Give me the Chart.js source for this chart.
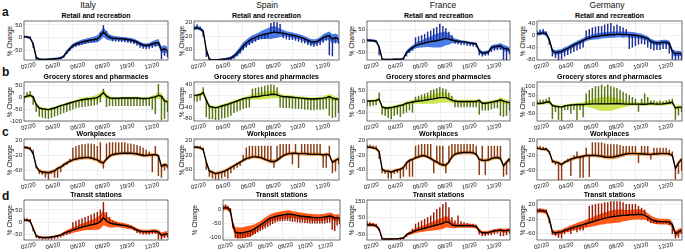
<!DOCTYPE html>
<html><head><meta charset="utf-8">
<script src="https://cdn.jsdelivr.net/npm/chart.js@4.4.1/dist/chart.umd.min.js"></script>
<style>
html,body{margin:0;padding:0;background:#fff;}
body{width:685px;height:252px;position:relative;overflow:hidden;font-family:"Liberation Sans",Arial,Helvetica,sans-serif;color:#111;}
.abs{position:absolute;white-space:nowrap;}
.colh{font-size:8.5px;text-align:center;width:100px;line-height:10px;}
.rowl{font-size:12px;font-weight:bold;line-height:12px;}
.pt{font-size:7px;font-weight:bold;text-align:center;line-height:8px;color:#000;}
.yt{font-size:6.5px;text-align:center;width:40px;height:8px;line-height:8px;transform:rotate(-90deg);}
canvas{position:absolute;}
</style></head><body>
<script>
// ---------- axis / labels ----------
const COUNTRIES = ['Italy','Spain','France','Germany'];
const CATEGORIES = ['Retail and recreation','Grocery stores and pharmacies','Workplaces','Transit stations'];
const ROW_LETTERS = ['a','b','c','d'];
const X_MAX = 330;               // days since 15 Feb 2020 shown
const STEP = 7;                  // one value per week
const X_TICKS = [27, 83, 140, 197, 253, 310];
const X_LABELS = ['02/20','04/20','06/20','08/20','10/20','12/20'];

// ---------- Retail and recreation ----------
const itRMean  = [3,2,-2,-25,-80,-87,-88,-88,-87,-86,-85,-84,-82,-75,-58,-45,-32,-26,-22,-18,-15,-12,-10,-8,-5,5,22,8,0,-2,-3,-4,-5,-6,-8,-10,-13,-18,-25,-30,-32,-30,-25,-22,-20,-50,-45,-52];
const itRBand  = [4,4,5,6,6,4,4,4,4,4,4,5,5,6,8,8,8,8,9,10,10,10,11,12,14,16,20,16,12,10,8,8,8,8,8,8,8,8,8,8,8,8,10,12,14,15,14,14];
const itRSpike = [8,6,4,-40,-88,-90,-91,-90,-90,-88,-88,-86,-85,-80,-65,-52,-42,-36,-32,-28,-25,-22,-20,-18,-15,22,48,25,8,-14,-15,-16,-17,-18,-20,-22,-25,-32,-40,-44,-46,-44,-40,-36,-32,-85,-72,-78];
const itRTicks = [50,0,-50];  const itRRange = [-90,66];

const esRMean  = [3,5,2,-5,-60,-88,-90,-90,-89,-88,-87,-86,-84,-78,-70,-60,-48,-40,-33,-27,-23,-19,-16,-14,-12,-10,-8,-9,-10,-11,-13,-15,-17,-19,-21,-24,-28,-32,-36,-37,-35,-30,-24,-20,-18,-28,-24,-28];
const esRBand  = [5,5,5,6,6,4,3,3,3,3,3,4,5,6,8,10,10,10,10,10,10,10,12,14,16,18,18,16,12,10,8,8,8,8,8,8,8,8,8,8,8,8,10,10,12,14,12,12];
const esRSpike = [10,14,8,-20,-80,-92,-93,-93,-92,-91,-90,-89,-88,-85,-78,-70,-60,-52,-45,-40,-35,-30,-28,-26,-24,18,22,20,15,-25,-28,-30,-30,-32,-35,-38,-40,-45,-48,-50,-48,-45,-38,-32,-75,-78,-40,-42];
const esRTicks = [20,0,-20,-40,-60,-80];  const esRRange = [-90,25];

const frRMean  = [4,3,2,0,-25,-78,-80,-80,-80,-79,-79,-78,-76,-50,-38,-28,-20,-15,-12,-8,-5,-2,0,2,5,8,12,8,5,2,0,-2,-3,-5,-8,-10,-12,-42,-52,-50,-48,-28,-24,-22,-20,-30,-32,-38];
const frRBand  = [5,5,5,6,6,4,3,3,3,3,3,3,5,8,10,10,12,14,16,18,20,24,28,30,32,32,30,24,14,10,8,6,6,6,6,6,6,10,8,8,8,10,10,10,12,14,12,12];
const frRSpike = [10,8,6,-5,-60,-82,-82,-82,-82,-82,-82,-82,-80,-65,-50,-40,15,20,25,30,40,45,55,60,75,65,55,40,25,-10,-12,-15,-15,-18,-20,-22,-25,-60,-65,-62,-60,-45,-40,-38,-36,-80,-82,-55];
const frRTicks = [50,0,-50];  const frRRange = [-82,88];

const deRMean  = [5,6,8,5,-15,-52,-58,-56,-54,-48,-44,-38,-32,-27,-22,-17,-12,-9,-6,-4,-3,-1,0,1,2,2,3,3,2,3,2,1,0,-2,-4,-7,-11,-20,-24,-26,-25,-23,-23,-26,-55,-62,-60,-62];
const deRBand  = [6,6,6,8,8,8,8,8,8,8,8,8,8,8,8,8,8,8,9,10,10,10,10,10,10,10,10,10,10,10,10,10,9,9,9,8,8,8,8,8,8,8,8,8,10,10,8,8];
const deRSpike = [15,18,20,12,-30,-70,-75,-82,-80,-70,-65,-60,-55,-50,-45,-40,15,20,25,28,30,30,35,38,40,30,35,30,25,20,-45,-40,-35,-30,-28,-30,-40,-45,-50,-48,-48,-45,-45,-60,-80,-82,-80,-82];
const deRTicks = [40,20,0,-20,-40,-60,-80];  const deRRange = [-83,48];

// ---------- Grocery stores and pharmacies ----------
const itGMean  = [0,5,8,2,-30,-45,-48,-50,-52,-48,-45,-40,-35,-32,-28,-24,-20,-16,-13,-10,-8,-6,-5,-3,0,8,20,5,-2,-4,-4,-4,-3,-3,-3,-3,-3,-2,-4,-5,-5,-3,0,2,8,5,-15,-18];
const itGBand  = [5,8,10,8,8,6,6,6,6,6,6,6,6,6,6,6,6,6,7,8,8,8,9,10,12,14,16,12,8,6,6,6,6,6,6,6,6,6,6,6,6,6,8,10,14,14,10,10];
const itGSpike = [-20,20,25,-30,-60,-80,-85,-88,-90,-85,-80,-75,-70,-65,-60,-55,-50,-45,-42,-40,-38,-36,-35,-33,-30,-20,35,-40,-35,-35,-35,-35,-35,-35,-35,-35,-35,-35,-35,-35,-35,-35,-50,-70,55,-95,-90,-60];
const itGTicks = [50,0,-50,-100];  const itGRange = [-100,65];

const esGMean  = [2,3,5,12,-15,-38,-40,-42,-40,-36,-33,-30,-26,-22,-18,-14,-10,-8,-6,-4,-3,-2,0,2,3,5,6,4,0,-2,-3,-4,-5,-6,-7,-8,-9,-10,-11,-11,-10,-9,-8,-6,-2,-8,-10,-12];
const esGBand  = [5,5,6,10,10,6,6,6,6,6,6,6,6,6,6,6,6,6,8,10,10,12,12,14,14,14,14,12,8,6,6,6,6,6,6,6,6,6,6,6,6,6,6,8,10,10,8,8];
const esGSpike = [-20,-20,-15,30,-75,-82,-82,-85,-85,-80,-78,-75,-70,-60,-55,-50,-45,-42,-40,25,28,30,32,35,38,40,38,30,-40,-42,-42,-42,-44,-45,-46,-46,-48,-48,-50,-50,-48,-48,-48,-45,-70,-78,-75,-60];
const esGTicks = [40,20,0,-20,-40,-60,-80];  const esGRange = [-90,50];

const frGMean  = [2,2,3,5,10,-25,-30,-30,-28,-25,-22,-18,-15,-8,-5,-2,0,2,3,5,8,10,12,15,18,18,18,12,5,2,0,0,0,0,0,0,0,5,-8,-8,-6,-3,0,2,8,2,-2,-5];
const frGBand  = [6,6,6,8,10,8,8,8,8,8,8,8,8,8,8,10,10,12,14,16,18,20,22,24,24,24,22,18,12,10,8,8,8,8,8,8,8,8,8,8,8,8,8,10,12,12,10,10];
const frGSpike = [-20,-20,-18,-15,40,-60,-65,-75,-80,-65,-60,-70,-55,-50,-40,-50,20,25,30,35,40,50,55,60,65,60,55,40,25,-25,-25,-25,-25,-25,-25,-25,-25,-60,-40,-40,-40,-35,-30,-30,-65,-70,-65,-40];
const frGTicks = [50,0,-50];  const frGRange = [-90,90];

const deGMean  = [5,5,8,12,15,-5,-10,-12,-15,-8,-5,-3,-2,0,0,0,2,2,3,3,3,3,3,3,4,4,5,4,3,2,2,2,2,2,1,1,2,5,3,2,2,3,5,8,12,-20,-15,-15];
const deGBand  = [8,8,8,10,12,8,8,8,8,8,8,8,8,10,10,12,15,20,25,30,35,40,40,40,40,35,30,25,20,15,12,10,10,10,10,10,10,10,10,10,10,10,10,10,12,12,10,10];
const deGSpike = [20,25,25,30,40,-80,-40,-85,-90,-30,-30,-50,-30,-85,-30,-70,60,80,90,100,100,110,100,110,100,95,90,80,70,60,50,40,30,-40,30,60,40,20,20,15,20,15,20,25,30,-85,-60,-40];
const deGTicks = [100,50,0,-50];  const deGRange = [-93,126];

// ---------- Workplaces ----------
const itWMean  = [2,1,-2,-15,-50,-62,-65,-66,-67,-64,-62,-55,-52,-45,-40,-36,-32,-30,-28,-27,-26,-26,-27,-30,-32,-38,-40,-30,-22,-18,-16,-15,-14,-14,-14,-14,-15,-16,-18,-20,-20,-19,-18,-18,-20,-50,-45,-48];
const itWBand  = [4,4,4,5,5,5,5,5,5,5,5,5,5,5,5,5,5,5,5,5,5,5,5,5,6,6,6,6,6,5,5,5,5,5,5,5,5,5,5,5,5,5,5,5,5,6,6,6];
const itWSpike = [5,5,3,-5,-55,-70,-72,-80,-85,-70,-80,-80,-65,-50,-45,-30,0,5,8,10,10,12,12,10,5,15,-55,12,15,15,15,15,15,15,12,12,10,8,5,0,-5,-10,-65,5,-75,-80,-60,-55];
const itWTicks = [20,0,-20,-40,-60,-80];  const itWRange = [-87,25];

const esWMean  = [2,2,0,-5,-40,-65,-68,-72,-70,-68,-65,-60,-55,-50,-45,-40,-35,-30,-28,-25,-25,-26,-28,-32,-35,-38,-38,-35,-28,-22,-18,-16,-15,-15,-16,-16,-16,-17,-18,-18,-18,-18,-20,-18,-20,-40,-35,-30];
const esWBand  = [4,4,4,5,5,5,5,5,5,5,5,5,5,5,5,5,5,5,5,5,5,5,5,5,6,6,6,6,6,5,5,5,5,5,5,5,5,5,5,5,5,5,5,5,5,6,6,6];
const esWSpike = [5,5,5,0,-60,-80,-85,-88,-88,-85,-80,-85,-70,-60,-55,-50,-20,0,5,5,5,5,5,5,5,5,-55,5,10,10,10,10,-45,10,-55,10,10,10,10,10,10,10,-55,-55,5,-70,-65,-45];
const esWTicks = [20,0,-20,-40,-60,-80];  const esWRange = [-90,25];

const frWMean  = [2,2,0,-2,-10,-60,-65,-65,-68,-64,-62,-60,-55,-42,-35,-32,-28,-25,-22,-22,-25,-30,-35,-40,-45,-48,-48,-40,-25,-18,-15,-14,-13,-13,-13,-14,-18,-32,-35,-35,-34,-30,-28,-27,-30,-50,-40,-30];
const frWBand  = [4,4,4,5,5,5,5,5,5,5,5,5,5,5,5,5,5,5,5,5,5,5,5,5,6,6,6,6,6,5,5,5,5,5,5,5,5,5,5,5,5,5,5,5,5,6,6,6];
const frWSpike = [8,8,6,5,-30,-70,-72,-85,-85,-72,-70,-85,-80,-60,-80,-80,5,8,10,10,10,10,-70,5,5,5,-70,5,10,10,10,10,10,10,10,10,5,-75,5,-75,5,5,5,5,5,-80,-75,-40];
const frWTicks = [20,0,-20,-40,-60,-80];  const frWRange = [-90,25];

const deWMean  = [0,-2,-3,-3,-10,-35,-38,-40,-45,-38,-35,-30,-28,-25,-24,-22,-20,-20,-20,-20,-21,-22,-24,-25,-25,-24,-22,-20,-18,-16,-15,-15,-15,-15,-16,-16,-17,-17,-16,-16,-15,-15,-15,-16,-20,-55,-40,-30];
const deWBand  = [4,4,4,5,5,5,5,5,5,5,5,5,5,5,5,5,5,5,5,5,5,5,5,5,6,6,6,6,6,5,5,5,5,5,5,5,5,5,5,5,5,5,5,5,5,6,6,6];
const deWSpike = [5,5,3,0,-15,-40,-45,-86,-86,-40,-30,-75,-20,-10,-80,-80,0,-78,15,15,15,15,12,10,10,10,10,8,5,5,5,5,5,-40,5,5,5,-30,0,0,0,0,0,-5,-10,-85,-70,-60];
const deWTicks = [20,0,-20,-40,-60,-80];  const deWRange = [-87,25];

// ---------- Transit stations ----------
const itTMean  = [8,8,5,-25,-55,-60,-62,-62,-62,-60,-58,-55,-52,-45,-40,-36,-32,-28,-24,-20,-17,-14,-11,-8,-5,2,18,5,-3,-6,-8,-10,-12,-14,-17,-20,-25,-32,-36,-38,-38,-38,-36,-36,-40,-52,-48,-46];
const itTBand  = [5,5,6,8,5,4,4,4,4,4,4,4,5,6,8,10,12,12,14,15,16,18,20,22,25,28,30,22,18,15,12,10,10,10,10,8,8,8,8,8,8,8,8,8,8,10,10,10];
const itTSpike = [18,15,12,-35,-62,-66,-68,-68,-68,-68,-66,-64,-60,-55,-50,-45,0,5,10,15,20,25,30,35,40,50,80,40,20,5,0,-5,-8,-10,-12,-15,-32,-42,-45,-48,-48,-48,-46,-46,-68,-68,-62,-60];
const itTTicks = [50,0,-50];  const itTRange = [-72,90];

const esTMean  = [5,8,5,-5,-55,-80,-82,-83,-82,-80,-78,-76,-72,-66,-60,-55,-48,-42,-36,-30,-27,-24,-22,-20,-18,-17,-16,-16,-17,-18,-20,-22,-23,-24,-25,-26,-27,-28,-28,-28,-27,-26,-24,-22,-24,-30,-28,-30];
const esTBand  = [8,8,8,10,15,18,20,20,20,20,20,20,18,16,15,14,14,14,14,14,14,14,14,14,14,14,14,14,12,12,12,12,12,12,12,12,12,12,12,12,12,12,12,12,12,12,12,12];
const esTSpike = [15,18,12,5,-65,-100,-102,-100,-100,-98,-95,-95,-90,-85,-80,-75,-70,-65,-60,-55,-50,-45,-42,-40,-40,-38,-38,-40,-42,-42,-44,-45,-45,-46,-47,-48,-48,-48,-48,-48,-48,-48,-46,-45,-70,-75,-55,-50];
const esTTicks = [0,-50,-100];  const esTRange = [-108,35];

const frTMean  = [5,5,5,0,-20,-78,-80,-80,-80,-79,-78,-76,-74,-55,-45,-38,-30,-25,-20,-15,-10,-5,0,5,10,15,25,20,5,0,0,0,0,0,0,-2,-5,-30,-42,-42,-40,-35,-30,-28,-25,-30,-28,-25];
const frTBand  = [10,10,10,10,10,5,4,4,4,4,4,4,6,8,10,12,14,16,18,20,22,25,28,30,32,35,35,30,20,15,12,12,12,12,12,12,12,12,10,10,10,10,10,10,10,12,12,12];
const frTSpike = [25,20,15,10,-30,-85,-85,-85,-85,-85,-85,-85,-80,-65,-50,-20,10,20,30,40,50,60,80,100,110,130,140,110,50,30,60,25,20,15,10,10,5,-50,-60,-60,-55,-55,-50,-45,-60,-60,-55,-45];
const frTTicks = [150,100,50,0,-50];  const frTRange = [-86,156];

const deTMean  = [2,3,2,0,-20,-55,-58,-56,-55,-50,-48,-45,-42,-40,-37,-35,-32,-30,-28,-25,-22,-20,-18,-16,-14,-13,-12,-11,-10,-10,-9,-8,-8,-7,-8,-10,-14,-20,-24,-26,-27,-27,-27,-28,-35,-60,-55,-50];
const deTBand  = [6,6,6,6,8,6,6,6,6,6,7,8,8,9,10,10,11,12,12,14,14,15,16,16,18,18,18,18,16,15,14,14,14,14,14,12,10,10,9,8,8,8,8,8,8,8,8,8];
const deTSpike = [8,8,5,5,-30,-62,-65,-70,-72,-60,-55,-60,-50,-55,-50,-50,-40,15,18,20,22,22,25,25,28,28,28,28,25,20,20,20,20,15,10,5,-25,-30,-30,-32,-32,-32,-32,-35,-60,-72,-70,-60];
const deTTicks = [20,0,-20,-40,-60];  const deTRange = [-77,32];

const PANELS = [
  [[itRMean,itRBand,itRSpike,itRTicks,itRRange],[esRMean,esRBand,esRSpike,esRTicks,esRRange],[frRMean,frRBand,frRSpike,frRTicks,frRRange],[deRMean,deRBand,deRSpike,deRTicks,deRRange]],
  [[itGMean,itGBand,itGSpike,itGTicks,itGRange],[esGMean,esGBand,esGSpike,esGTicks,esGRange],[frGMean,frGBand,frGSpike,frGTicks,frGRange],[deGMean,deGBand,deGSpike,deGTicks,deGRange]],
  [[itWMean,itWBand,itWSpike,itWTicks,itWRange],[esWMean,esWBand,esWSpike,esWTicks,esWRange],[frWMean,frWBand,frWSpike,frWTicks,frWRange],[deWMean,deWBand,deWSpike,deWTicks,deWRange]],
  [[itTMean,itTBand,itTSpike,itTTicks,itTRange],[esTMean,esTBand,esTSpike,esTTicks,esTRange],[frTMean,frTBand,frTSpike,frTTicks,frTRange],[deTMean,deTBand,deTSpike,deTTicks,deTRange]]
];

// ---------- layout & style ----------
const FONT = '"Liberation Sans", Arial, sans-serif';
const STY = [
  {band:'#4a7be6', spike:'#1d2f96'},
  {band:'#cde656', spike:'#587613'},
  {band:'#f6a35a', spike:'#8a3d14'},
  {band:'#ff5a18', spike:'#9a1c06'}
];
const COL_L = [24,194,367,537], COL_R = [168,339,510,682];
const ROW_T = [21,82,139,200], ROW_B = [60,121,180,240];
const YTITLE_X = [10,182,352,523];
const COLH_X = [88,267,443,607];
const ROWL_Y = [6,66,126,190];

function geom(r,c){
  let L = COL_L[c], R = COL_R[c], yx = YTITLE_X[c];
  if (r===3 && c===1){ L = 223; R = 340; yx = 195; }
  return {L, R, T:ROW_T[r], B:ROW_B[r], yx};
}

function addDiv(cls, text, css){
  const d = document.createElement('div');
  d.className = 'abs ' + cls; d.textContent = text; d.style.cssText += css;
  document.body.appendChild(d); return d;
}

COUNTRIES.forEach((n,c)=>addDiv('colh', n, `left:${COLH_X[c]-50}px;top:0px;`));
ROW_LETTERS.forEach((n,r)=>addDiv('rowl', n, `left:2px;top:${ROWL_Y[r]}px;`));

const boxPlugin = {id:'box', afterDraw(chart){
  const {ctx, chartArea:a} = chart; ctx.save();
  ctx.strokeStyle = '#333'; ctx.lineWidth = 0.7;
  ctx.strokeRect(a.left, a.top, a.right-a.left, a.bottom-a.top); ctx.restore();
}};

const YW = 16, PT = 7, PR = 3, XH = 14;

function drawPanel(r,c){
  const [m,b,s,yt,yr] = PANELS[r][c];
  const g = geom(r,c), st = STY[r];
  addDiv('pt', CATEGORIES[r], `left:${g.L}px;width:${g.R-g.L}px;top:${g.T-9}px;`);
  addDiv('yt', '% Change', `left:${g.yx-20}px;top:${(g.T+g.B)/2-4}px;`);
  const cv = document.createElement('canvas');
  const w = g.R-g.L+YW+PR, h = g.B-g.T+PT+XH;
  cv.width = w; cv.height = h;
  cv.style.cssText = `left:${g.L-YW}px;top:${g.T-PT}px;width:${w}px;height:${h}px;`;
  document.body.appendChild(cv);
  const xs = m.map((_,i)=>i*STEP);
  const meanD = m.map((v,i)=>({x:xs[i], y:v}));
  const loD = m.map((v,i)=>({x:xs[i], y:v-b[i]}));
  const hiD = m.map((v,i)=>({x:xs[i], y:v+b[i]}));
  const spD = m.map((v,i)=>({x:xs[i], y:[v, s[i]]}));
  new Chart(cv, {
    type:'line',
    data:{datasets:[
      {data:meanD, borderColor:'#000', borderWidth:1.4, pointRadius:0, tension:0, fill:false, order:0},
      {type:'bar', data:spD, backgroundColor:st.spike, barThickness:0.8, order:1},
      {data:loD, borderColor:'rgba(0,0,0,0)', borderWidth:0, pointRadius:0, fill:false, order:3},
      {data:hiD, borderColor:'rgba(0,0,0,0)', borderWidth:0, pointRadius:0, fill:2, backgroundColor:st.band, order:2}
    ]},
    options:{
      responsive:false, animation:false, devicePixelRatio:1, events:[],
      layout:{padding:{top:PT, right:PR, left:0, bottom:0}},
      plugins:{legend:{display:false}, tooltip:{enabled:false}, title:{display:false}},
      scales:{
        x:{type:'linear', min:0, max:X_MAX, offset:false,
          afterBuildTicks:sc=>{sc.ticks = X_TICKS.map(v=>({value:v}));},
          afterFit:sc=>{sc.height = XH;},
          ticks:{autoSkip:false, minRotation:12, maxRotation:12, padding:1, color:'#222',
                 font:{size:6, family:FONT}, callback:(v,i)=>X_LABELS[i]},
          grid:{color:'#e4e4e4', lineWidth:0.6, drawTicks:false},
          border:{display:false}},
        y:{type:'linear', min:yr[0], max:yr[1],
          afterBuildTicks:sc=>{sc.ticks = yt.map(v=>({value:v}));},
          afterFit:sc=>{sc.width = YW;},
          ticks:{padding:2, color:'#222', font:{size:6, family:FONT}},
          grid:{color:'#e4e4e4', lineWidth:0.6, drawTicks:false},
          border:{display:false}}
      }
    },
    plugins:[boxPlugin]
  });
}

for (let r=0;r<4;r++) for (let c=0;c<4;c++) drawPanel(r,c);
</script>
</body></html>
